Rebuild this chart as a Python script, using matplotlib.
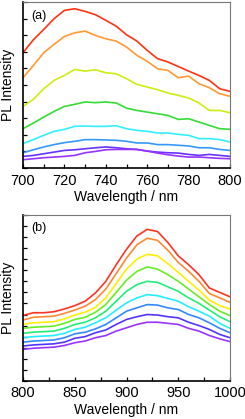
import numpy as np
import matplotlib
matplotlib.use("Agg")
import matplotlib.pyplot as plt
from matplotlib.ticker import MultipleLocator

plt.rcParams['font.family'] = ['Liberation Sans', 'DejaVu Sans']

## Data ##
# panel (a): 700-800 nm, 5 nm step
wl_a = np.arange(700, 801, 5)
colors_a = ['#ff3311', '#ff9933', '#ccee11', '#33dd33', '#33eeff', '#3399ff', '#6633ff', '#9933ff']
red_a    = [6.95, 7.73, 8.35, 9.0, 9.5, 9.6, 9.44, 9.24, 8.9, 8.55, 8.03, 7.65, 7.09, 6.59, 6.39, 6.12, 5.84, 5.58, 5.28, 4.78, 4.62]
orange_a = [5.44, 6.18, 6.95, 7.45, 7.93, 8.15, 8.25, 7.99, 7.79, 7.65, 7.29, 6.79, 6.43, 5.98, 5.88, 5.44, 5.54, 5.08, 4.84, 4.48, 4.32]
yellow_a = [3.71, 4.14, 4.78, 5.28, 5.58, 5.94, 5.84, 5.92, 5.74, 5.68, 5.38, 5.04, 4.88, 4.72, 4.52, 4.38, 4.22, 3.92, 3.47, 3.47, 3.33]
green_a  = [2.37, 2.71, 3.07, 3.41, 3.71, 3.84, 3.98, 3.94, 3.98, 3.92, 3.61, 3.47, 3.37, 3.27, 3.17, 2.93, 2.97, 2.77, 2.57, 2.37, 2.33]
cyan_a   = [1.47, 1.71, 1.97, 2.21, 2.33, 2.51, 2.53, 2.51, 2.51, 2.55, 2.37, 2.27, 2.21, 2.11, 2.11, 2.03, 1.97, 1.77, 1.77, 1.71, 1.57]
blue_a   = [0.92, 1.10, 1.27, 1.41, 1.53, 1.61, 1.71, 1.71, 1.69, 1.67, 1.61, 1.51, 1.51, 1.41, 1.41, 1.37, 1.33, 1.22, 1.22, 1.12, 1.06]
violet_a = [0.70, 0.76, 0.86, 0.96, 1.06, 1.10, 1.16, 1.22, 1.27, 1.22, 1.16, 1.12, 1.02, 0.96, 0.92, 0.90, 0.82, 0.76, 0.82, 0.76, 0.70]
purple_a = [0.50, 0.56, 0.62, 0.66, 0.70, 0.76, 0.92, 1.00, 1.10, 1.12, 1.12, 1.12, 1.02, 0.90, 0.80, 0.72, 0.66, 0.66, 0.62, 0.58, 0.56]
series_a = [red_a, orange_a, yellow_a, green_a, cyan_a, blue_a, violet_a, purple_a]

# panel (b): 800-1000 nm, 10 nm step
wl_b = np.arange(800, 1001, 10)
colors_b = ['#ff3322', '#ff8833', '#ffee00', '#66ee22', '#22ee77', '#22eeff', '#3388ff', '#5533ff', '#9933ff']
red_b    = [5.92, 6.16, 6.16, 6.25, 6.5, 6.8, 7.2, 7.95, 9.0, 10.5, 11.9, 13.1, 13.7, 13.5, 12.5, 11.3, 10.5, 9.6, 8.4, 8.0, 7.6]
orange_b = [5.5, 5.75, 5.8, 5.85, 6.1, 6.4, 6.75, 7.35, 8.3, 9.7, 11.1, 12.3, 12.9, 12.7, 11.8, 10.7, 9.9, 9.0, 7.9, 7.5, 7.1]
yellow_b = [5.1, 5.25, 5.3, 5.35, 5.6, 5.95, 6.2, 6.65, 7.5, 8.8, 10.1, 11.0, 11.45, 11.3, 10.6, 9.8, 9.0, 8.2, 7.3, 6.8, 6.5]
lgreen_b = [4.75, 4.85, 4.9, 4.95, 5.2, 5.55, 5.75, 6.2, 6.9, 8.0, 9.1, 9.9, 10.3, 10.1, 9.6, 9.0, 8.3, 7.6, 6.9, 6.3, 5.9]
green_b  = [4.3, 4.4, 4.45, 4.5, 4.75, 5.1, 5.3, 5.7, 6.3, 7.2, 8.1, 8.7, 9.0, 8.9, 8.5, 8.1, 7.5, 7.0, 6.4, 5.8, 5.35]
cyan_b   = [3.9, 4.0, 4.05, 4.1, 4.3, 4.65, 4.85, 5.25, 5.7, 6.4, 7.05, 7.5, 7.8, 7.7, 7.45, 7.2, 6.7, 6.3, 5.85, 5.2, 4.75]
blue_b   = [3.5, 3.6, 3.65, 3.7, 3.9, 4.25, 4.4, 4.7, 5.1, 5.7, 6.3, 6.6, 6.9, 6.85, 6.6, 6.45, 6.0, 5.7, 5.25, 4.75, 4.35]
violet_b = [3.15, 3.25, 3.3, 3.35, 3.5, 3.85, 4.0, 4.35, 4.6, 5.1, 5.55, 5.8, 6.0, 5.95, 5.8, 5.7, 5.3, 5.0, 4.65, 4.2, 3.9]
purple_b = [2.85, 2.95, 3.0, 3.05, 3.2, 3.45, 3.6, 3.9, 4.1, 4.5, 4.8, 5.1, 5.3, 5.3, 5.2, 5.1, 4.75, 4.5, 4.1, 3.8, 3.55]
series_b = [red_b, orange_b, yellow_b, lgreen_b, green_b, cyan_b, blue_b, violet_b, purple_b]


## Plot ##
def style_axis(ax, xlim, ylim, xmajor, xminor, label):
    ax.set_xlim(*xlim)
    ax.set_ylim(*ylim)
    ax.xaxis.set_major_locator(MultipleLocator(xmajor))
    ax.xaxis.set_minor_locator(MultipleLocator(xminor))
    ax.yaxis.set_major_locator(MultipleLocator(1))
    ax.set_yticklabels([])
    ax.tick_params(which='both', direction='in', length=3, width=0.9, top=False, right=False)
    ax.tick_params(axis='x', labelsize=10.5, pad=4)
    for side in ['left', 'bottom']:
        ax.spines[side].set_linewidth(1.2)
        ax.spines[side].set_color('black')
    for side in ['top', 'right']:
        ax.spines[side].set_linewidth(0.8)
        ax.spines[side].set_color('#777777')
    ax.set_xlabel('Wavelength / nm', fontsize=10, labelpad=2)
    ax.set_ylabel('PL Intensity', fontsize=10, labelpad=2)
    ax.text(0.039, 0.955, label, transform=ax.transAxes, fontsize=9, va='top', ha='left')


fig = plt.figure(figsize=(2.45, 4.19), dpi=100)
ax_a = fig.add_axes([0.094, 0.599, 0.845, 0.396])
ax_b = fig.add_axes([0.094, 0.091, 0.845, 0.396])

for ys, c in zip(series_a, colors_a):
    ax_a.plot(wl_a, ys, color=c, lw=1.2)
style_axis(ax_a, (700, 800), (0, 10), 20, 10, '(a)')

for ys, c in zip(series_b, colors_b):
    ax_b.plot(wl_b, ys, color=c, lw=1.2)
style_axis(ax_b, (800, 1000), (0, 15), 50, 25, '(b)')

fig.savefig('out.png', dpi=100)
